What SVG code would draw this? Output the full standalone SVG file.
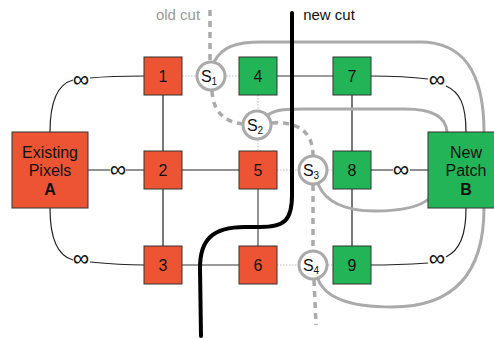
<svg xmlns="http://www.w3.org/2000/svg" width="494" height="338" viewBox="0 0 494 338">
  <defs>
    <style>
      .edge { fill: none; stroke: #222; stroke-width: 1.2; }
      .edge-cut { fill: none; stroke: #7a7a7a; stroke-width: 1.6; }
      .aux { fill: none; stroke: #bbb; stroke-width: 1; stroke-dasharray: 1.5 1.5; }
      .seam { fill: none; stroke: #aaa; stroke-width: 3; }
      .old-cut { fill: none; stroke: #aaa; stroke-width: 3.5; stroke-dasharray: 6 5; }
      .new-cut { fill: none; stroke: #000; stroke-width: 4; stroke-linecap: round; }
      .src rect { fill: #ed5433; stroke: #333; stroke-width: 1; }
      .snk rect { fill: #22b456; stroke: #333; stroke-width: 1; }
      .seamnode circle { fill: #fff; stroke: #aaa; stroke-width: 3; }
      text { font-family: "Liberation Sans", Arial, sans-serif; fill: #111; text-anchor: middle; }
      .num { font-size: 16px; }
      .big { font-size: 16px; }
      .inf { font-size: 23px; }
      .s { font-size: 16px; }
      .sub { font-size: 10px; }
    </style>
  </defs>

  <!-- connectors -->
  <g id="connectors">
    <!-- infinite-weight links to the terminals -->
    <path class="edge" d="M50,132 C50,100 58,84 73,80"/>
    <path class="edge" d="M90,78 C110,76 125,76 144,76"/>
    <path class="edge" d="M88,170 L110,170 M126,170 L144,170"/>
    <path class="edge" d="M50,208 C50,240 58,256 73,260"/>
    <path class="edge" d="M90,262 C110,264 125,265 144,265"/>
    <path class="edge" d="M371,76 C395,76 412,77 428,79"/>
    <path class="edge" d="M446,86 C460,92 466,105 466,132"/>
    <path class="edge" d="M371,170 L393,170 M410,170 L428,170"/>
    <path class="edge" d="M371,265 C395,265 412,264 428,263"/>
    <path class="edge" d="M446,257 C460,250 466,235 466,208"/>

    <!-- pixel grid links -->
    <path class="edge" d="M163,95 L163,151 M163,189 L163,246"/>
    <path class="edge" d="M182,170 L239,170"/>
    <path class="edge" d="M352,95 L352,152 M352,189 L352,246"/>
    <path class="edge-cut" d="M277,76 L333,76"/>
    <path class="edge-cut" d="M258,189 L258,246"/>
    <path class="edge-cut" d="M182,265 L239,265"/>

    <!-- links through seam nodes -->
    <path class="aux" d="M182,76 L196,76 M226,76 L239,76"/>
    <path class="aux" d="M258,95 L258,110 M258,140 L258,152"/>
    <path class="aux" d="M277,170 L298,170 M328,170 L333,170"/>
    <path class="aux" d="M277,265 L298,265 M328,265 L333,265"/>

    <!-- seam links to the patch -->
    <path class="seam" d="M214,62 C222,47 235,42 262,42 L420,42 C462,42 484,70 484,132 L484,208 C484,272 455,307 392,307 C352,307 325,298 318,279"/>
    <path class="seam" d="M268,115 C276,109 288,109 305,109 L405,109 C432,109 446,116 447,132"/>
    <path class="seam" d="M318,184 C326,203 346,211 375,211 C400,211 420,207 430,198"/>

    <!-- old cut -->
    <path class="old-cut" d="M210,10 L210,61"/>
    <path class="old-cut" d="M212,91 C213,112 225,122 243,124"/>
    <path class="old-cut" d="M272,123 C300,121 313,134 313,155"/>
    <path class="old-cut" d="M313,185 L313,250"/>
    <path class="old-cut" d="M314,280 L316,325"/>

    <!-- new cut -->
    <path class="new-cut" d="M292,13 L292,195 C292,220 285,227 260,227 L245,227 C212,227 200,240 200,268 L201,336"/>
  </g>

  <!-- infinity labels -->
  <g id="inf-labels">
    <text class="inf" x="81" y="87">∞</text>
    <text class="inf" x="118" y="177">∞</text>
    <text class="inf" x="81" y="266">∞</text>
    <text class="inf" x="437" y="87">∞</text>
    <text class="inf" x="401" y="177">∞</text>
    <text class="inf" x="437" y="266">∞</text>
  </g>

  <!-- cut labels -->
  <text x="178" y="20" style="font-size:15px; fill:#999;">old cut</text>
  <text x="329" y="20" style="font-size:15px;">new cut</text>

  <!-- terminals -->
  <g id="nodeA" class="src">
    <rect x="12" y="132" width="76" height="76"/>
    <text class="big" x="50" y="158">Existing</text>
    <text class="big" x="50" y="176">Pixels</text>
    <text class="big" x="50" y="195" style="font-weight:bold;">A</text>
  </g>
  <g id="nodeB" class="snk">
    <rect x="428" y="132" width="76" height="76"/>
    <text class="big" x="466" y="158">New</text>
    <text class="big" x="466" y="176">Patch</text>
    <text class="big" x="466" y="195" style="font-weight:bold;">B</text>
  </g>

  <!-- pixel nodes -->
  <g id="node1" class="src"><rect x="144" y="57" width="38" height="38"/><text class="num" x="163" y="82">1</text></g>
  <g id="node2" class="src"><rect x="144" y="151" width="38" height="38"/><text class="num" x="163" y="176">2</text></g>
  <g id="node3" class="src"><rect x="144" y="246" width="38" height="38"/><text class="num" x="163" y="271">3</text></g>
  <g id="node4" class="snk"><rect x="239" y="57" width="38" height="38"/><text class="num" x="258" y="82">4</text></g>
  <g id="node5" class="src"><rect x="239" y="151" width="38" height="38"/><text class="num" x="258" y="176">5</text></g>
  <g id="node6" class="src"><rect x="239" y="246" width="38" height="38"/><text class="num" x="258" y="271">6</text></g>
  <g id="node7" class="snk"><rect x="333" y="57" width="38" height="38"/><text class="num" x="352" y="82">7</text></g>
  <g id="node8" class="snk"><rect x="333" y="151" width="38" height="38"/><text class="num" x="352" y="176">8</text></g>
  <g id="node9" class="snk"><rect x="333" y="246" width="38" height="38"/><text class="num" x="352" y="271">9</text></g>

  <!-- seam nodes -->
  <g id="s1" class="seamnode"><circle cx="211" cy="76" r="14"/><text class="s" x="209" y="82">S<tspan class="sub" dy="3">1</tspan></text></g>
  <g id="s2" class="seamnode"><circle cx="257" cy="125" r="14"/><text class="s" x="255" y="131">S<tspan class="sub" dy="3">2</tspan></text></g>
  <g id="s3" class="seamnode"><circle cx="313" cy="170" r="14"/><text class="s" x="311" y="176">S<tspan class="sub" dy="3">3</tspan></text></g>
  <g id="s4" class="seamnode"><circle cx="313" cy="265" r="14"/><text class="s" x="311" y="271">S<tspan class="sub" dy="3">4</tspan></text></g>
</svg>
